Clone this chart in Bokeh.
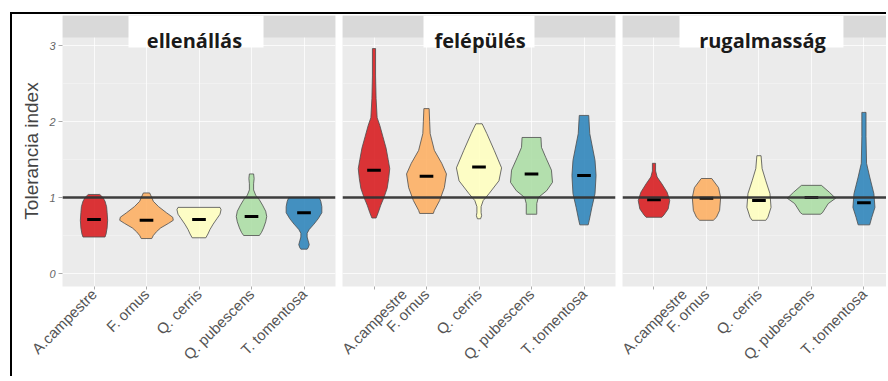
import math
from bokeh.plotting import figure
from bokeh.layouts import row
from bokeh.models import Range1d, FixedTicker, BoxAnnotation, Label, Span
from bokeh.embed import file_html
from bokeh.resources import INLINE

# ---------------- data ----------------
species = ["A.campestre", "F. ornus", "Q. cerris", "Q. pubescens", "T. tomentosa"]
panels = ["ellenállás", "felépülés", "rugalmasság"]
colors = ["#d7191c", "#fdae61", "#ffffbf", "#abdda4", "#2b83ba"]
y_ticks = [0, 1, 2, 3]
reference_value = 1

# violin outlines: index values (top -> bottom) and half widths (category units)
ell_levels = [
    [1.04, 1.00, 0.95, 0.88, 0.80, 0.70, 0.60, 0.52, 0.48],
    [1.06, 1.00, 0.95, 0.88, 0.80, 0.74, 0.70, 0.66, 0.60, 0.55, 0.50, 0.46],
    [0.87, 0.84, 0.78, 0.72, 0.65, 0.58, 0.52, 0.47],
    [1.31, 1.25, 1.18, 1.10, 1.03, 0.97, 0.90, 0.82, 0.75, 0.68, 0.60, 0.54, 0.50],
    [1.00, 0.95, 0.88, 0.80, 0.72, 0.65, 0.58, 0.53, 0.48, 0.43, 0.38, 0.34, 0.32],
]
ell_widths = [
    [0.11, 0.17, 0.21, 0.24, 0.25, 0.26, 0.25, 0.23, 0.21],
    [0.06, 0.10, 0.13, 0.23, 0.38, 0.50, 0.51, 0.42, 0.27, 0.19, 0.13, 0.10],
    [0.40, 0.42, 0.40, 0.34, 0.27, 0.21, 0.17, 0.13],
    [0.04, 0.05, 0.04, 0.04, 0.08, 0.15, 0.21, 0.27, 0.29, 0.27, 0.23, 0.19, 0.15],
    [0.29, 0.32, 0.34, 0.34, 0.27, 0.19, 0.10, 0.06, 0.06, 0.08, 0.10, 0.08, 0.06],
]
ell_medians = [0.71, 0.70, 0.71, 0.75, 0.80]

fel_levels = [
    [2.96, 2.60, 2.30, 2.05, 1.95, 1.80, 1.65, 1.50, 1.38, 1.25, 1.12, 1.00, 0.90, 0.80, 0.73],
    [2.17, 2.00, 1.84, 1.62, 1.45, 1.31, 1.13, 0.96, 0.83, 0.79],
    [1.97, 1.84, 1.62, 1.39, 1.22, 1.05, 0.96, 0.88, 0.80, 0.76, 0.72],
    [1.79, 1.66, 1.53, 1.36, 1.20, 1.09, 1.00, 0.92, 0.79, 0.78],
    [2.08, 1.84, 1.49, 1.29, 1.05, 0.87, 0.70, 0.64],
]
fel_widths = [
    [0.03, 0.03, 0.04, 0.06, 0.11, 0.17, 0.23, 0.27, 0.30, 0.28, 0.25, 0.19, 0.13, 0.08, 0.04],
    [0.05, 0.06, 0.07, 0.15, 0.29, 0.38, 0.34, 0.25, 0.15, 0.13],
    [0.06, 0.15, 0.29, 0.43, 0.38, 0.19, 0.08, 0.04, 0.04, 0.05, 0.03],
    [0.18, 0.19, 0.27, 0.38, 0.40, 0.29, 0.13, 0.10, 0.10, 0.10],
    [0.09, 0.11, 0.21, 0.23, 0.21, 0.15, 0.10, 0.08],
]
fel_medians = [1.36, 1.28, 1.40, 1.31, 1.29]

rug_levels = [
    [1.45, 1.35, 1.27, 1.18, 1.07, 0.96, 0.85, 0.77, 0.74],
    [1.25, 1.13, 1.00, 0.83, 0.74, 0.70],
    [1.55, 1.38, 1.22, 1.05, 0.87, 0.74, 0.70],
    [1.16, 1.07, 0.99, 0.92, 0.80, 0.78],
    [2.12, 1.80, 1.45, 1.27, 1.05, 0.87, 0.74, 0.64],
]
rug_widths = [
    [0.03, 0.03, 0.06, 0.15, 0.25, 0.30, 0.27, 0.19, 0.15],
    [0.10, 0.23, 0.27, 0.25, 0.19, 0.13],
    [0.04, 0.06, 0.13, 0.21, 0.23, 0.17, 0.13],
    [0.19, 0.34, 0.46, 0.32, 0.21, 0.17],
    [0.04, 0.04, 0.05, 0.11, 0.19, 0.21, 0.15, 0.11],
]
rug_medians = [0.97, 0.99, 0.96, 1.00, 0.93]

panel_levels = [ell_levels, fel_levels, rug_levels]
panel_widths = [ell_widths, fel_widths, rug_widths]
panel_medians = [ell_medians, fel_medians, rug_medians]

# ---------------- styling / layout ----------------
PANEL_BG = "#ebebeb"
STRIP_BG = "#d9d9d9"
AXIS_FONT = "Liberation Sans"
STRIP_FONT = "Open Sans"

y_range = Range1d(-0.171, 3.395)
x_ends = [5.6, 5.6, 5.43]
frame_ws = [273, 273, 264]
borders_l = [50, 4, 4]
borders_r = [3, 3, 0]
strip_box = [(1.657, 4.229), (1.943, 4.057), (1.486, 4.61)]
strip_text_x = [2.914, 3.019, 3.067]

positions = list(range(1, len(species) + 1))

figs = []
for k, name in enumerate(panels):
    p = figure(
        x_range=Range1d(0.4, x_ends[k]), y_range=y_range,
        frame_width=frame_ws[k], frame_height=271,
        min_border_left=borders_l[k], min_border_right=borders_r[k],
        min_border_top=1, min_border_bottom=90,
        output_backend="svg", toolbar_location=None,
        background_fill_color=PANEL_BG, border_fill_color="white",
        outline_line_color=None,
    )
    # grid
    p.xgrid.ticker = FixedTicker(ticks=positions)
    p.ygrid.ticker = FixedTicker(ticks=y_ticks, minor_ticks=[0.5, 1.5, 2.5])
    p.xgrid.grid_line_color = "white"
    p.xgrid.grid_line_width = 1.1
    p.xgrid.grid_line_alpha = 0.75
    p.ygrid.grid_line_color = "white"
    p.ygrid.grid_line_width = 1.1
    p.ygrid.grid_line_alpha = 0.75
    p.ygrid.minor_grid_line_color = "white"
    p.ygrid.minor_grid_line_width = 0.5
    p.ygrid.minor_grid_line_alpha = 0.6

    # x axis
    ax = p.xaxis[0]
    ax.ticker = FixedTicker(ticks=positions)
    ax.major_label_overrides = {pos: sp for pos, sp in zip(positions, species)}
    ax.major_label_orientation = math.pi / 4
    ax.axis_line_color = None
    ax.major_tick_in = 0
    ax.major_tick_out = 3
    ax.major_tick_line_color = "#aaaaaa"
    ax.minor_tick_line_color = None
    ax.major_label_text_font = AXIS_FONT
    ax.major_label_text_font_size = "15px"
    ax.major_label_text_color = "#555555"
    ax.major_label_standoff = 2

    # y axis
    ay = p.yaxis[0]
    if k == 0:
        ay.ticker = FixedTicker(ticks=y_ticks)
        ay.axis_line_color = None
        ay.major_tick_in = 0
        ay.major_tick_out = 4
        ay.major_tick_line_color = "#aaaaaa"
        ay.minor_tick_line_color = None
        ay.major_label_text_font = AXIS_FONT
        ay.major_label_text_font_size = "11px"
        ay.major_label_text_font_style = "italic"
        ay.major_label_text_color = "#666666"
        ay.major_label_standoff = 3
        ay.axis_label = "Tolerancia index"
        ay.axis_label_text_font = AXIS_FONT
        ay.axis_label_text_font_size = "19px"
        ay.axis_label_text_font_style = "normal"
        ay.axis_label_text_color = "#444444"
        ay.axis_label_standoff = 4
    else:
        ay.visible = False

    # violins
    for i, (lv, wd) in enumerate(zip(panel_levels[k], panel_widths[k])):
        cx = positions[i]
        xs = [cx + w for w in wd] + [cx - w for w in reversed(wd)]
        ys = list(lv) + list(reversed(lv))
        p.patch(xs, ys, fill_color=colors[i], fill_alpha=0.88,
                line_color="#4d4d4d", line_width=0.8)

    # medians
    med = panel_medians[k]
    p.segment(x0=[c - 0.13 for c in positions], x1=[c + 0.13 for c in positions],
              y0=med, y1=med, line_color="black", line_width=3)

    # reference line
    p.add_layout(Span(location=reference_value, dimension="width",
                      line_color="#333333", line_width=2.5, line_alpha=0.95))

    # strip
    p.add_layout(BoxAnnotation(bottom=3.105, fill_color=STRIP_BG, fill_alpha=1,
                               line_color=None))
    p.add_layout(BoxAnnotation(left=strip_box[k][0], right=strip_box[k][1],
                               bottom=2.974, fill_color="white", fill_alpha=1,
                               line_color=None))
    p.add_layout(Label(x=strip_text_x[k], y=3.066, text=name,
                       text_align="center", text_baseline="alphabetic",
                       text_font=STRIP_FONT, text_font_style="bold",
                       text_font_size="20px", text_color="#1a1a1a"))
    figs.append(p)

layout = row(*figs, styles={"border-left": "2px solid black",
                            "border-top": "2px solid black",
                            "margin-left": "10px", "margin-top": "12px"})

open("out.html", "w").write(file_html(layout, INLINE))
